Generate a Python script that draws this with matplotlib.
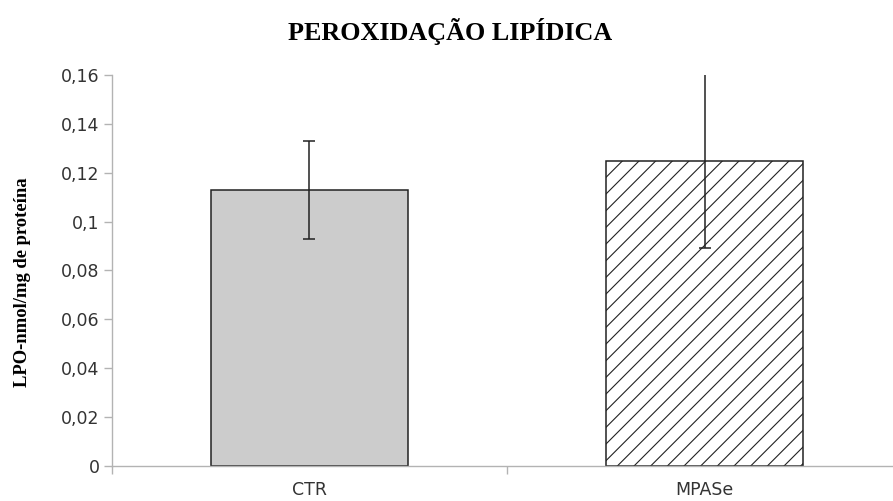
import matplotlib.pyplot as plt
from matplotlib.ticker import FixedLocator

# data
groups = ["CTR", "MPASe"]
means = [0.113, 0.125]
errors = [0.020, 0.036]
hatches = ["", "//"]
fills = ["#cccccc", "white"]

yticks = [0, 0.02, 0.04, 0.06, 0.08, 0.1, 0.12, 0.14, 0.16]
ytick_labels = ["0", "0,02", "0,04", "0,06", "0,08", "0,1", "0,12", "0,14", "0,16"]

plt.rcParams["hatch.linewidth"] = 0.8

fig = plt.figure(figsize=(8.93, 5.01), dpi=100)
ax = fig.add_axes([0.1254, 0.0699, 0.8847, 0.7804])

x = list(range(len(groups)))
for i in x:
    ax.bar(i, means[i], width=0.5, color=fills[i], edgecolor="#222222",
           linewidth=1.1, hatch=hatches[i], zorder=2)
ax.errorbar(x, means, yerr=errors, fmt="none", ecolor="#222222",
            elinewidth=1.1, capsize=4, capthick=1.1, zorder=3)

ax.set_xlim(-0.5, 1.5)
ax.set_ylim(0, 0.16)

axis_gray = "#b3b3b3"
for side in ["top", "right"]:
    ax.spines[side].set_visible(False)
for side in ["left", "bottom"]:
    ax.spines[side].set_color(axis_gray)
    ax.spines[side].set_linewidth(1.0)

ax.set_yticks(yticks)
ax.set_yticklabels(ytick_labels, fontfamily="DejaVu Sans", fontsize=12.5, color="#333333")
ax.tick_params(axis="y", length=6, width=1, color=axis_gray, pad=3)

ax.set_xticks(x)
ax.set_xticklabels(groups, fontfamily="DejaVu Sans", fontsize=12.5, color="#333333")
ax.tick_params(axis="x", which="major", length=0, pad=11)
ax.xaxis.set_minor_locator(FixedLocator([-0.5, 0.5, 1.5]))
ax.tick_params(axis="x", which="minor", length=6, width=1, color=axis_gray)

fig.text(0.504, 0.937, "PEROXIDAÇÃO LIPÍDICA", ha="center", va="center",
         fontfamily="Liberation Serif", fontweight="bold", fontsize=18.8)
fig.text(0.025, 0.436, "LPO-nmol/mg de proteína", ha="center", va="center",
         rotation=90, fontfamily="Liberation Serif", fontweight="bold", fontsize=13.4)

fig.savefig("out.png", dpi=100)
